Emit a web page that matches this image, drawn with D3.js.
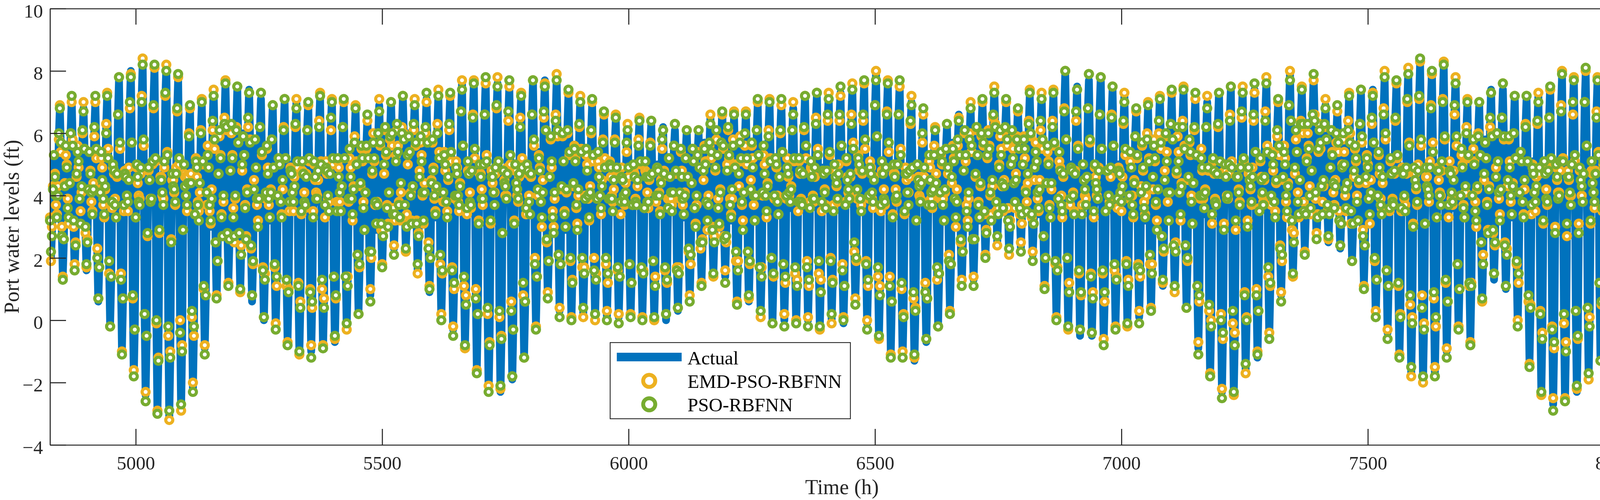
<!DOCTYPE html>
<html>
<head>
<meta charset="utf-8">
<script src="https://cdn.jsdelivr.net/npm/d3@7"></script>
<style>
  html, body { margin: 0; padding: 0; background: #ffffff; overflow: hidden; }
  svg { display: block; }
</style>
</head>
<body>
<div id="chart-container"></div>
<script>
// port water level record, one sample every 2 h starting at 4826 h
const startHour = 4826;
const stepHours = 2;

// levels in tenths of a foot, one line per tidal day
const actualLevel = [
32,20,28,44,52,47,38,33,42,59,
68,55,28,15,25,44,54,49,38,32,42,61,
71,57,30,16,26,45,55,50,39,33,42,59,
68,55,29,16,25,44,53,48,39,34,43,61,
70,54,22,6,18,41,52,47,38,33,43,62,
72,54,17,-1,12,37,50,46,38,34,45,66,
77,56,13,-9,6,35,49,46,39,36,47,69,
80,56,7,-18,-2,32,48,45,40,37,48,71,
82,56,3,-24,-6,29,47,45,40,38,49,70,
81,53,-2,-30,-11,27,46,44,41,39,50,71,
81,53,-3,-31,-12,27,46,44,40,38,48,67,
77,51,-2,-28,-9,29,48,45,39,36,44,61,
69,46,1,-22,-4,33,51,47,38,33,42,60,
69,50,11,-9,7,39,55,49,36,30,41,63,
74,57,24,7,20,46,59,51,35,27,39,64,
76,60,29,13,25,49,61,52,35,26,38,62,
74,58,26,10,23,48,60,52,36,28,40,63,
74,57,23,6,19,44,57,50,37,30,40,61,
71,53,18,0,14,41,54,49,38,32,41,60,
69,51,16,-2,12,39,52,48,39,34,43,61,
70,51,13,-6,8,36,50,47,40,36,45,62,
70,50,10,-10,5,34,49,46,40,37,45,62,
70,50,10,-10,5,34,49,46,41,38,46,63,
71,51,11,-9,6,35,50,47,40,37,46,63,
71,52,13,-7,8,37,51,47,39,35,44,61,
69,51,16,-2,12,39,53,48,38,33,42,59,
68,52,19,3,16,43,56,50,37,30,39,56,
65,51,22,8,21,46,59,52,37,29,39,59,
69,56,30,17,28,49,60,53,38,30,40,60,
70,58,35,23,33,52,61,54,39,32,42,61,
71,59,35,23,32,51,60,53,40,33,42,61,
70,57,30,16,27,48,58,52,39,32,42,61,
71,56,25,9,21,44,56,50,39,33,43,62,
72,54,19,1,14,40,53,48,39,34,44,63,
72,53,16,-3,11,38,51,47,39,35,45,66,
76,55,13,-8,6,35,49,46,40,37,47,66,
76,53,8,-15,1,32,48,46,41,38,48,67,
77,52,2,-23,-6,30,47,45,41,39,48,67,
76,51,2,-23,-6,30,47,45,41,39,48,66,
75,52,5,-19,-2,31,48,46,41,38,47,64,
72,51,10,-11,4,35,50,46,39,35,45,66,
76,57,18,-1,13,40,54,48,37,31,43,66,
77,60,25,7,20,45,57,50,35,28,40,65,
77,59,22,3,17,44,58,51,36,29,40,62,
73,55,18,0,14,42,56,50,37,31,41,61,
71,54,19,2,15,41,54,49,38,33,42,60,
69,52,18,1,14,39,52,48,39,35,43,59,
67,51,18,1,13,38,50,47,40,36,43,57,
64,48,17,1,13,36,48,45,39,36,43,56,
63,48,17,1,13,36,48,45,40,37,44,57,
64,49,18,2,14,37,49,46,40,37,44,57,
63,48,17,1,13,38,50,47,40,36,43,56,
62,47,16,0,13,38,51,47,39,35,42,55,
61,47,18,3,16,41,53,48,38,33,40,54,
61,48,21,7,19,43,55,49,37,31,38,53,
60,48,25,13,24,46,57,50,37,30,39,56,
65,53,28,15,26,48,59,52,38,31,40,58,
67,54,27,14,26,49,60,53,39,32,40,57,
65,50,20,5,18,45,58,51,38,31,40,58,
67,52,21,6,19,44,56,50,38,32,41,60,
69,52,19,2,15,41,54,49,39,34,43,61,
70,53,18,0,13,39,52,48,39,35,44,61,
70,53,18,0,13,38,51,47,40,36,44,60,
68,51,16,-1,12,37,50,47,40,37,46,63,
72,54,18,0,12,37,49,46,41,38,47,64,
72,54,17,-2,11,36,49,46,41,38,47,64,
72,54,18,0,12,37,49,47,42,39,48,65,
73,55,18,-1,12,37,50,47,41,38,47,65,
74,57,23,6,18,41,52,48,40,36,46,66,
76,57,18,-1,12,38,51,47,40,36,47,68,
79,58,16,-5,9,36,49,46,41,38,48,67,
76,55,12,-10,5,34,48,46,41,39,48,67,
76,54,10,-12,3,33,48,46,41,39,47,62,
70,49,8,-13,3,34,49,46,41,38,45,59,
66,48,11,-7,8,37,51,47,40,36,42,55,
61,46,15,-1,13,40,54,49,38,33,40,55,
62,48,19,4,17,44,57,51,38,31,40,57,
66,52,25,11,23,47,59,52,37,30,40,59,
68,54,27,13,25,48,60,53,39,32,42,61,
70,58,33,20,30,51,61,54,41,34,44,64,
74,62,37,25,34,51,60,54,42,36,44,61,
69,57,34,22,31,50,59,54,43,37,45,60,
68,57,34,23,32,49,58,53,42,36,45,63,
72,59,34,21,30,47,56,51,40,34,44,63,
73,57,26,10,21,43,54,49,38,33,43,63,
73,55,20,2,15,40,52,48,39,34,45,68,
79,59,18,-2,11,37,50,47,40,36,46,65,
75,55,15,-5,9,36,49,46,40,37,47,67,
77,57,16,-5,8,35,48,46,41,38,48,68,
78,57,14,-7,7,34,48,46,41,38,47,65,
74,55,18,-1,12,37,50,47,40,36,45,63,
72,54,17,-1,12,39,52,48,39,34,43,60,
68,51,18,1,15,42,55,49,38,32,41,59,
68,52,19,3,17,44,57,51,38,31,41,62,
72,57,26,11,23,47,59,52,39,32,42,62,
72,57,26,10,23,48,60,53,40,33,43,64,
74,57,22,5,18,45,58,52,39,32,42,62,
72,52,11,-9,7,38,54,49,39,34,43,61,
70,48,4,-18,-1,33,50,47,40,37,46,64,
73,49,1,-23,-5,30,48,46,41,39,48,65,
74,50,1,-23,-6,30,47,45,41,39,48,65,
74,52,7,-16,0,32,48,46,41,38,47,65,
74,53,10,-12,4,35,50,47,40,36,46,66,
76,56,15,-5,10,39,53,48,39,34,43,61,
70,55,23,8,20,44,56,50,39,33,45,68,
79,63,31,15,26,48,59,53,40,34,44,64,
74,61,36,23,33,52,61,55,42,35,46,67,
78,65,39,26,35,53,62,56,43,36,44,61,
69,58,36,25,34,51,60,54,42,36,44,59,
67,56,34,23,32,49,58,52,41,35,44,63,
72,59,33,20,29,47,56,50,39,33,43,63,
73,58,27,12,23,44,54,49,38,32,43,64,
74,56,19,1,14,39,52,48,39,34,45,67,
78,58,17,-4,10,37,50,47,40,36,46,66,
76,54,10,-12,3,34,49,46,40,37,48,69,
80,56,7,-17,-1,32,48,46,41,38,49,71,
82,57,6,-19,-2,31,47,45,41,39,49,70,
80,56,7,-17,-1,32,48,46,41,38,49,70,
81,58,13,-10,5,35,50,47,40,36,47,68,
78,58,17,-3,11,39,53,48,38,33,42,61,
70,51,13,-6,10,41,56,50,37,31,41,60,
69,54,23,7,20,45,58,51,37,30,41,63,
74,59,28,13,25,48,59,52,39,32,43,64,
74,58,26,10,22,45,57,51,39,33,43,62,
72,54,17,-1,13,40,54,49,39,34,43,62,
71,50,8,-13,3,35,51,47,40,36,45,63,
72,48,1,-23,-5,31,49,46,41,38,47,66,
75,50,-2,-27,-8,29,48,46,41,39,49,68,
78,52,0,-26,-8,29,47,45,41,39,49,68,
78,53,2,-23,-5,30,48,46,41,38,48,69,
79,55,6,-18,-1,32,49,46,40,37,47,67,
77,55,10,-12,4,35,51,47,39,35,46,67,
78,58,19,-1,13,40,53,48,38,33,45,68,
80,62,25,6,18,43,55,49,38,32,60,79,
62,22
];

const emdLevel = [
33,19,30,43,53,47,37,34,43,58,
69,54,30,14,26,44,53,50,39,31,44,60,
70,58,30,18,25,46,56,49,39,35,41,60,
70,55,28,17,26,42,54,48,38,35,44,59,
70,52,23,7,17,42,52,49,37,33,42,63,
73,55,15,-2,14,36,49,47,39,33,46,66,
78,55,15,-10,7,35,48,47,40,35,49,68,
79,57,7,-16,-3,33,49,44,40,39,47,72,
84,56,2,-23,-5,27,48,45,39,39,50,68,
81,51,-1,-29,-12,28,46,46,40,39,49,72,
82,54,-5,-32,-10,26,45,45,41,37,49,67,
78,50,0,-29,-8,29,47,46,40,35,46,60,
68,47,1,-20,-5,34,52,46,38,35,41,61,
71,50,10,-8,8,37,56,49,35,31,42,61,
74,55,25,8,19,47,59,53,34,27,38,65,
77,61,27,12,27,48,60,53,36,25,39,62,
75,57,28,9,24,48,59,53,37,27,42,62,
73,58,23,8,18,45,58,49,37,32,39,62,
73,53,17,1,15,39,55,49,37,33,42,58,
69,49,17,-1,11,40,52,50,38,34,42,62,
71,52,11,-7,10,35,49,48,41,35,46,62,
71,49,12,-11,6,34,48,47,41,36,47,61,
69,51,10,-8,4,35,50,45,41,40,45,64,
73,51,10,-8,7,33,51,47,39,38,47,61,
71,50,14,-6,7,38,51,49,38,35,43,62,
70,52,14,-3,14,38,52,49,39,32,43,59,
69,51,21,2,17,43,55,51,38,29,41,55,
64,52,22,10,20,47,60,51,37,31,38,60,
71,56,29,18,29,47,61,53,37,31,41,58,
70,56,36,24,32,53,61,56,38,32,41,62,
72,60,33,22,34,50,59,54,41,32,43,61,
71,56,32,15,28,48,57,53,40,31,44,60,
70,57,25,11,20,45,57,49,39,35,42,63,
74,54,18,2,15,38,54,48,38,35,45,61,
72,51,17,-2,10,39,51,49,38,35,44,67,
77,56,11,-9,8,34,48,47,41,36,48,66,
77,52,10,-16,2,32,47,47,42,37,50,66,
76,53,2,-21,-7,31,48,44,41,41,47,68,
78,51,1,-22,-5,28,48,45,40,40,49,64,
75,50,6,-18,-3,32,48,48,40,38,46,65,
73,52,8,-12,6,34,49,47,40,34,46,66,
77,56,20,-2,14,40,53,49,38,30,45,65,
76,61,25,9,19,46,58,49,35,30,39,66,
79,59,21,4,18,42,59,51,35,30,41,60,
73,53,19,1,13,43,56,52,36,31,40,62,
72,55,17,1,17,40,53,50,39,32,43,60,
70,51,20,0,15,39,51,49,40,34,45,58,
66,52,18,3,12,39,51,46,40,38,42,58,
66,48,16,2,14,34,49,45,38,37,44,54,
63,46,18,2,12,37,48,47,39,37,43,58,
65,50,16,1,16,36,48,47,41,36,45,57,
64,47,19,0,14,38,49,48,41,35,45,55,
61,48,16,2,12,39,52,46,39,37,41,56,
63,47,17,4,17,39,54,48,37,34,41,52,
61,46,22,8,18,44,55,51,36,31,37,54,
61,49,23,12,26,45,56,51,38,29,40,56,
66,52,30,14,27,48,58,53,39,30,42,57,
66,55,27,16,25,50,61,52,39,34,39,58,
67,50,19,6,19,43,59,51,37,32,41,56,
67,50,22,7,18,45,56,52,37,32,40,61,
70,53,17,1,17,40,53,50,40,33,44,61,
71,52,20,-1,14,39,51,49,40,34,46,60,
69,54,18,2,12,39,52,46,40,38,43,61,
70,51,15,0,13,35,51,47,39,38,47,61,
72,52,19,1,11,38,49,48,40,38,46,65,
73,55,15,-3,13,35,48,47,42,37,48,64,
73,53,20,-1,13,37,48,48,43,38,50,64,
72,56,18,1,11,38,51,46,41,40,46,66,
76,57,22,7,19,39,53,48,39,37,47,64,
76,55,19,0,11,39,51,49,39,36,46,69,
80,59,14,-6,11,35,48,47,42,37,49,67,
77,54,14,-11,6,34,47,47,42,38,50,66,
75,55,10,-10,2,34,49,45,41,41,46,63,
72,49,7,-12,4,32,50,46,40,39,46,57,
66,46,12,-6,7,38,51,49,39,36,41,56,
62,47,13,-2,15,39,53,50,39,32,41,55,
63,47,21,3,18,44,56,52,39,30,42,56,
65,53,25,13,22,48,60,51,37,32,39,60,
70,54,26,14,26,46,61,53,38,33,43,59,
70,56,34,21,29,52,61,56,40,34,43,65,
75,63,35,24,36,50,59,55,43,35,45,61,
70,56,36,21,32,50,58,55,44,36,47,59,
67,58,34,25,31,50,59,52,42,38,44,64,
74,59,33,22,31,45,57,51,39,35,45,61,
73,55,27,11,20,44,54,51,37,33,42,64,
74,56,18,1,17,39,51,49,40,33,46,68,
80,58,20,-3,12,37,49,48,41,35,48,64,
74,56,15,-3,8,37,50,45,40,39,46,68,
79,57,15,-4,9,33,49,46,40,39,49,66,
78,55,15,-6,6,35,48,48,40,38,46,66,
75,56,16,-2,14,36,49,48,41,35,46,63,
73,53,19,-2,13,39,51,49,40,33,45,59,
67,52,18,3,14,43,56,48,38,34,40,60,
70,52,18,4,18,42,58,51,37,32,42,60,
72,55,27,12,22,48,59,54,38,32,41,63,
73,58,24,9,25,47,59,54,41,32,44,64,
75,56,24,4,19,45,57,53,40,31,44,61,
71,53,11,-7,6,39,55,48,39,36,42,62,
72,48,3,-17,0,31,51,47,39,38,47,62,
73,47,2,-22,-6,31,48,48,40,39,47,66,
75,51,-1,-24,-4,29,46,46,42,38,49,65,
75,51,9,-17,1,32,47,47,42,37,49,64,
73,54,10,-10,3,36,51,46,40,38,45,67,
78,56,14,-4,11,37,54,48,38,35,44,59,
70,53,24,9,19,45,56,52,38,33,44,69,
80,64,29,14,28,47,58,54,41,33,45,64,
75,60,38,22,34,52,60,56,43,34,48,66,
77,66,39,28,34,54,63,55,43,38,43,62,
71,58,35,26,35,49,61,54,41,37,45,57,
67,54,35,24,31,50,58,54,40,35,43,64,
73,60,31,19,31,46,55,51,40,32,44,63,
74,57,29,11,24,44,53,50,39,31,45,63,
73,57,19,3,13,40,53,47,39,36,44,68,
80,58,16,-3,11,35,51,47,39,37,47,64,
76,52,11,-11,2,35,49,48,39,37,47,70,
81,57,5,-18,1,31,47,47,42,37,50,71,
83,56,8,-20,-1,31,46,46,42,38,51,69,
79,57,7,-15,-2,33,49,45,41,40,48,71,
83,58,12,-9,6,33,51,47,39,37,48,66,
78,56,18,-2,10,40,53,50,37,33,41,62,
71,52,11,-7,12,40,55,51,38,30,42,60,
70,53,25,6,21,45,57,52,38,29,43,62,
73,60,28,15,24,49,60,51,39,34,42,65,
76,58,25,11,23,43,58,51,38,34,44,60,
72,52,18,0,12,41,54,51,38,34,42,63,
72,51,6,-14,5,34,50,48,41,35,46,63,
73,47,3,-24,-4,31,48,47,42,37,49,65,
74,51,-2,-25,-9,30,49,45,41,41,48,69,
80,52,-1,-25,-7,27,48,45,40,40,50,66,
78,51,3,-22,-6,31,48,48,40,38,47,70,
80,56,4,-19,1,31,48,47,41,36,48,67,
78,54,12,-13,5,35,50,48,40,34,48,66,
77,59,19,1,12,41,54,47,38,35,44,69,
82,62,24,7,19,41,56,49,37,33,61,77,
63,21
];

const psoLevel = [
32,22,27,42,53,46,40,33,40,60,
68,57,27,13,26,43,56,49,36,33,44,60,
72,56,32,16,24,47,54,51,39,31,43,61,
67,55,30,18,25,42,54,47,41,34,42,62,
72,55,20,7,17,41,54,45,39,34,43,60,
72,52,19,-2,14,38,50,48,37,33,47,66,
78,57,13,-11,7,37,47,46,40,38,45,70,
78,57,8,-18,-3,33,50,46,38,37,49,70,
82,58,2,-26,-5,28,49,45,38,39,51,69,
82,52,0,-30,-13,29,45,45,41,37,51,73,
80,53,-2,-29,-12,25,47,43,42,38,47,68,
79,52,-4,-27,-10,29,50,43,40,37,44,59,
69,44,3,-23,-2,34,51,49,37,32,44,60,
70,51,11,-11,8,41,53,49,37,32,39,64,
72,58,25,7,19,47,61,52,33,27,40,63,
76,62,28,11,26,48,63,52,33,27,40,61,
75,57,28,10,21,50,59,53,36,26,41,65,
73,57,24,8,19,42,58,49,39,30,39,62,
73,54,16,1,13,41,56,47,39,33,41,58,
69,49,18,-3,14,40,52,50,38,33,45,61,
71,52,13,-8,9,38,48,47,41,38,43,63,
68,51,11,-10,4,35,51,47,38,37,46,61,
70,52,9,-12,6,33,51,46,39,39,48,62,
72,50,13,-9,4,37,49,48,40,35,47,65,
70,52,14,-5,8,35,52,46,41,35,43,62,
71,52,14,-1,11,39,55,46,39,34,42,57,
68,50,21,2,18,44,56,52,36,29,41,56,
66,52,22,6,22,48,57,52,38,31,37,60,
67,57,31,17,27,50,62,54,36,30,41,59,
70,60,34,21,34,51,63,54,37,33,44,60,
72,58,37,23,30,53,59,54,40,31,43,63,
69,57,31,18,27,46,59,51,41,32,41,62,
73,57,23,10,20,44,58,48,40,34,43,60,
72,52,21,0,16,41,53,50,38,33,46,63,
73,54,16,-5,12,40,49,47,40,37,43,67,
74,56,14,-8,5,36,51,47,38,37,48,65,
76,55,7,-17,2,31,50,46,39,39,50,66,
78,51,4,-23,-8,32,46,46,41,37,49,69,
75,51,3,-21,-6,28,48,44,43,39,47,67,
77,53,3,-18,-3,31,50,44,42,39,47,62,
72,49,12,-12,6,36,50,48,38,34,47,66,
77,58,18,-3,14,42,52,48,38,33,41,67,
75,61,26,7,19,46,59,51,33,28,41,64,
77,61,21,1,18,43,60,51,34,30,42,61,
74,54,20,0,12,44,55,51,37,29,42,63,
70,54,20,4,15,39,55,48,40,33,41,61,
71,53,16,2,13,39,54,46,40,36,43,57,
67,49,20,0,15,39,50,49,39,35,45,57,
65,49,17,-1,14,38,46,45,40,38,41,57,
61,49,18,1,12,37,50,46,38,37,45,56,
64,51,17,0,15,36,51,46,38,38,46,56,
64,47,19,1,11,40,49,48,40,34,44,58,
61,47,17,2,13,36,52,46,41,35,41,56,
63,48,16,4,15,41,55,46,39,34,40,52,
61,46,23,6,21,44,55,51,36,30,40,53,
61,49,25,11,25,48,55,50,38,32,37,57,
63,54,29,15,25,49,61,53,36,31,41,57,
67,56,26,12,27,48,62,53,37,33,42,56,
66,49,22,5,16,47,57,52,38,29,41,60,
66,52,22,8,19,42,57,49,40,32,40,61,
71,53,17,3,14,41,56,47,40,35,43,59,
70,51,20,-1,15,40,52,50,38,34,46,61,
71,54,18,-2,14,40,49,47,41,38,42,61,
66,52,17,-1,11,38,52,48,38,37,47,62,
72,56,17,-2,13,36,51,46,39,39,49,63,
73,53,19,-2,9,38,48,47,41,36,48,66,
71,54,19,2,12,35,50,46,44,39,47,66,
75,56,16,0,11,37,52,45,42,39,47,63,
74,55,25,5,20,42,52,50,39,35,48,66,
77,58,18,-3,13,40,49,47,41,38,45,69,
77,59,17,-5,8,37,51,47,39,38,49,66,
76,57,11,-12,6,33,50,46,39,40,50,66,
77,53,12,-12,1,35,47,47,41,37,48,64,
69,49,9,-11,3,32,50,45,43,38,44,60,
68,49,9,-6,7,37,53,45,41,37,42,53,
61,44,17,-2,15,41,54,51,37,32,42,55,
63,49,19,2,18,46,55,51,39,33,38,58,
64,53,26,11,22,48,61,53,35,30,41,58,
68,56,26,11,26,47,62,53,37,33,44,60,
71,57,35,20,28,53,60,55,41,32,45,66,
73,62,38,27,34,49,61,53,44,36,43,62,
71,58,32,23,30,50,61,52,44,38,45,58,
68,55,36,22,34,50,58,55,41,35,47,63,
73,60,34,19,31,49,54,51,41,36,42,64,
71,58,27,10,20,44,56,50,36,33,44,62,
73,57,19,0,16,39,54,48,37,35,47,67,
80,58,20,-2,9,39,49,48,40,34,47,67,
74,55,16,-3,9,34,50,45,42,37,46,68,
79,58,14,-4,7,35,50,44,42,39,48,66,
78,55,16,-8,9,35,48,48,40,37,49,65,
75,56,18,-3,13,39,48,47,41,38,43,64,
70,55,18,-1,11,40,54,49,37,34,44,59,
68,53,17,-1,16,41,57,49,36,33,43,58,
69,51,21,3,15,46,56,52,38,29,42,64,
71,57,27,13,23,45,60,51,41,32,41,63,
74,58,24,11,22,48,62,51,41,34,43,62,
74,55,24,4,20,46,58,54,38,31,44,62,
73,53,11,-11,8,40,52,49,40,36,41,62,
68,49,5,-18,-2,34,52,48,38,37,47,63,
73,51,0,-25,-4,29,50,46,39,40,50,64,
75,49,3,-23,-8,32,46,46,41,37,49,67,
73,52,8,-14,0,30,49,45,43,38,46,66,
76,54,8,-11,3,35,52,45,41,37,46,64,
76,54,17,-6,12,40,53,50,38,33,45,61,
71,56,23,6,21,46,54,50,40,35,43,69,
77,64,32,15,25,49,61,54,38,34,45,63,
74,63,35,21,34,51,63,55,40,36,48,66,
79,64,41,26,33,55,61,57,43,34,45,63,
68,58,37,27,34,49,61,53,44,36,43,60,
69,57,32,24,31,49,60,50,42,36,44,61,
72,57,35,19,31,48,56,52,38,32,45,63,
74,59,27,10,24,46,52,49,39,34,41,65,
72,57,20,1,13,40,54,49,37,34,46,66,
78,60,16,-6,11,36,52,47,38,37,48,65,
77,53,12,-12,1,36,48,47,40,35,49,71,
79,56,8,-15,-1,30,49,45,43,38,48,72,
84,58,4,-18,-3,31,49,43,42,40,49,68,
80,54,9,-18,1,33,48,48,40,37,51,70,
82,59,13,-12,6,37,48,47,41,38,45,69,
76,59,18,-3,10,40,55,49,36,33,43,60,
70,53,12,-8,11,40,58,50,35,32,43,59,
70,53,25,7,18,47,57,52,37,28,42,65,
73,59,29,15,25,46,60,51,41,32,42,65,
76,59,24,11,21,45,59,49,40,34,43,60,
72,52,19,-2,15,41,54,51,38,33,45,62,
72,51,8,-15,4,37,49,47,41,38,43,64,
70,49,2,-23,-6,32,51,47,39,38,48,65,
75,52,-3,-29,-7,28,50,46,39,40,51,67,
79,51,2,-26,-10,31,46,46,41,37,50,70,
77,53,3,-21,-5,28,49,45,43,38,47,70,
81,56,4,-17,-2,32,51,44,41,38,47,65,
77,53,12,-13,6,36,51,49,38,34,48,67,
79,59,19,-3,14,42,51,48,39,35,43,69,
78,63,26,6,17,44,57,50,36,32,61,78,
61,23
];

const seriesNames = ["Actual", "EMD-PSO-RBFNN", "PSO-RBFNN"];
const seriesColors = ["#0072BD", "#EDB120", "#77AC30"];
const xTicks = [5000, 5500, 6000, 6500, 7000, 7500, 8000];
const yTicks = [-4, -2, 0, 2, 4, 6, 8, 10];

// figure layout
const svgWidth = 4200;
const svgHeight = 1280;
const margin = { top: 22, right: 17, bottom: 141, left: 128 };
const width = svgWidth - margin.left - margin.right;
const height = svgHeight - margin.top - margin.bottom;
const axisColor = "#262626";
const fontFamily = "'Liberation Serif', 'Times New Roman', Times, serif";

const root = d3.select("#chart-container")
    .append("svg")
    .attr("width", svgWidth)
    .attr("height", svgHeight)
    .style("background", "#ffffff");

const svg = root.append("g")
    .attr("transform", `translate(${margin.left},${margin.top})`);

const x = d3.scaleLinear()
    .domain([4826, 8040])
    .range([0, width]);

const y = d3.scaleLinear()
    .domain([-4, 10])
    .range([height, 0]);

const hourAt = i => startHour + i * stepHours;

svg.append("clipPath")
    .attr("id", "plot-clip")
    .append("rect")
    .attr("width", width)
    .attr("height", height);

// actual record as a very thick line
svg.append("path")
    .datum(actualLevel)
    .attr("clip-path", "url(#plot-clip)")
    .attr("fill", "none")
    .attr("stroke", seriesColors[0])
    .attr("stroke-width", 20)
    .attr("stroke-linejoin", "round")
    .attr("d", d3.line()
        .x((d, i) => x(hourAt(i)))
        .y(d => y(d / 10)));

// forecasts as open rings, EMD first so PSO sits on top
[emdLevel, psoLevel].forEach((series, k) => {
    svg.append("g")
        .selectAll("circle")
        .data(series)
        .enter()
        .append("circle")
        .attr("cx", (d, i) => x(hourAt(i)))
        .attr("cy", d => y(d / 10))
        .attr("r", 9)
        .attr("fill", "#ffffff")
        .attr("stroke", seriesColors[k + 1])
        .attr("stroke-width", 8);
});

// axes box with inward ticks on all four sides
function styleAxis(g) {
    g.style("color", axisColor)
        .attr("font-family", fontFamily)
        .attr("font-size", 49);
    g.selectAll("path, line").attr("stroke-width", 2.7);
    g.selectAll("text").attr("fill", axisColor);
}

const tickText = d3.format("d");

svg.append("g")
    .attr("transform", `translate(0,${height})`)
    .call(d3.axisBottom(x).tickValues(xTicks).tickFormat(tickText)
        .tickSizeInner(-41).tickSizeOuter(0).tickPadding(28))
    .call(styleAxis);

svg.append("g")
    .call(d3.axisTop(x).tickValues(xTicks).tickSizeInner(-41).tickSizeOuter(0).tickFormat(""))
    .call(styleAxis);

svg.append("g")
    .call(d3.axisLeft(y).tickValues(yTicks).tickFormat(tickText)
        .tickSizeInner(-41).tickSizeOuter(0).tickPadding(18))
    .call(styleAxis)
    .selectAll("text").attr("dy", "0.45em");

svg.append("g")
    .attr("transform", `translate(${width},0)`)
    .call(d3.axisRight(y).tickValues(yTicks).tickSizeInner(-41).tickSizeOuter(0).tickFormat(""))
    .call(styleAxis);

// axis titles
svg.append("text")
    .text("Time (h)")
    .attr("x", width / 2)
    .attr("y", height + 126)
    .attr("text-anchor", "middle")
    .attr("font-family", fontFamily)
    .attr("font-size", 54)
    .attr("fill", axisColor);

svg.append("text")
    .text("Port water levels (ft)")
    .attr("transform", `translate(-80,${height / 2}) rotate(-90)`)
    .attr("text-anchor", "middle")
    .attr("font-family", fontFamily)
    .attr("font-size", 54)
    .attr("fill", axisColor);

// legend
const legend = svg.append("g")
    .attr("transform", "translate(1434,855)");

legend.append("rect")
    .attr("width", 615)
    .attr("height", 195)
    .attr("fill", "#ffffff")
    .attr("stroke", axisColor)
    .attr("stroke-width", 2.2);

legend.append("line")
    .attr("x1", 17)
    .attr("x2", 183)
    .attr("y1", 37)
    .attr("y2", 37)
    .attr("stroke", seriesColors[0])
    .attr("stroke-width", 22);

[1, 2].forEach(k => {
    legend.append("circle")
        .attr("cx", 100)
        .attr("cy", 98 + (k - 1) * 60)
        .attr("r", 15.5)
        .attr("fill", "#ffffff")
        .attr("stroke", seriesColors[k])
        .attr("stroke-width", 10);
});

seriesNames.forEach((name, k) => {
    legend.append("text")
        .text(name)
        .attr("x", 198)
        .attr("y", 56 + k * 60)
        .attr("font-family", fontFamily)
        .attr("font-size", 49)
        .attr("fill", "#000000");
});
</script>
</body>
</html>
